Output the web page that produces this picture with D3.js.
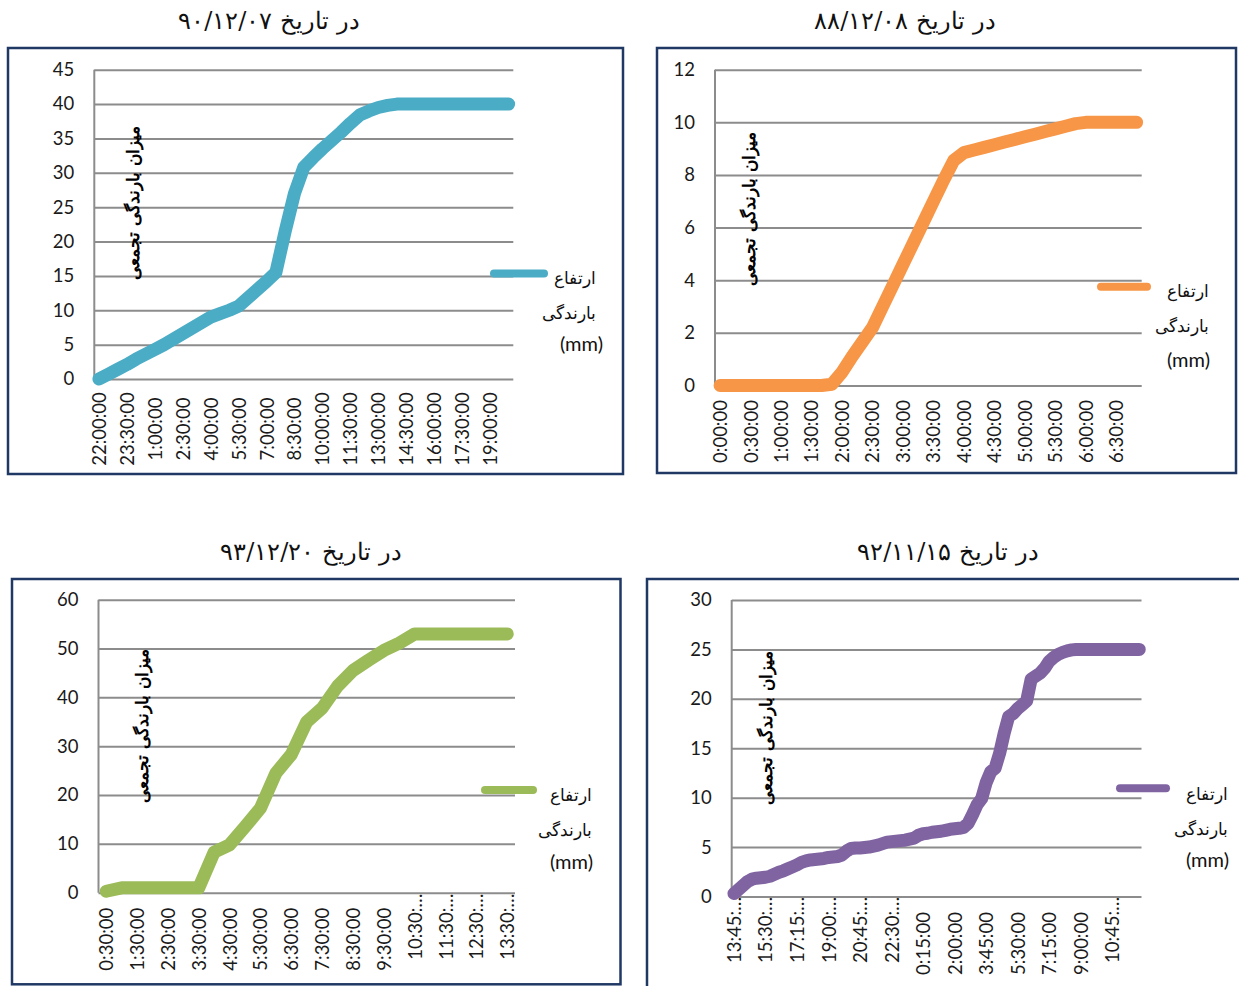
<!DOCTYPE html>
<html><head><meta charset="utf-8">
<script src="https://cdn.jsdelivr.net/npm/d3@7"></script>
<style>
html,body{margin:0;padding:0;background:#fff;}
svg{display:block;}
</style></head>
<body>
<svg id="c" width="1239" height="986"></svg>
<script>
// ---------------- DATA ----------------
// Panel 1 : در تاریخ ۹۰/۱۲/۰۷ (30-min steps)
const p1Cats = ["22:00:00","22:30:00","23:00:00","23:30:00","0:00:00","0:30:00","1:00:00","1:30:00","2:00:00","2:30:00",
"3:00:00","3:30:00","4:00:00","4:30:00","5:00:00","5:30:00","6:00:00","6:30:00","7:00:00","7:30:00",
"8:00:00","8:30:00","9:00:00","9:30:00","10:00:00","10:30:00","11:00:00","11:30:00","12:00:00","12:30:00",
"13:00:00","13:30:00","14:00:00","14:30:00","15:00:00","15:30:00","16:00:00","16:30:00","17:00:00","17:30:00",
"18:00:00","18:30:00","19:00:00","19:30:00","20:00:00"];
const p1Vals = [0,0.7,1.4,2.1,2.9,3.6,4.3,5.0,5.8,6.6,
7.4,8.2,9.0,9.5,10.0,10.6,11.8,13.0,14.2,15.5,
21.5,27.0,30.8,32.2,33.5,34.7,35.9,37.2,38.4,39.0,
39.5,39.8,40,40,40,40,40,40,40,40,
40,40,40,40,40];
const p1TickCats = ["22:00:00","23:30:00","1:00:00","2:30:00","4:00:00","5:30:00","7:00:00","8:30:00","10:00:00","11:30:00","13:00:00","14:30:00","16:00:00","17:30:00","19:00:00"];
const p1TickText = p1TickCats;
const p1YTicks = [0,5,10,15,20,25,30,35,40,45];

// Panel 2 : در تاریخ ۸۸/۱۲/۰۸ (10-min steps)
const p2Cats = ["0:00:00","0:10:00","0:20:00","0:30:00","0:40:00","0:50:00","1:00:00","1:10:00","1:20:00","1:30:00",
"1:40:00","1:50:00","2:00:00","2:10:00","2:20:00","2:30:00","2:40:00","2:50:00","3:00:00","3:10:00",
"3:20:00","3:30:00","3:40:00","3:50:00","4:00:00","4:10:00","4:20:00","4:30:00","4:40:00","4:50:00",
"5:00:00","5:10:00","5:20:00","5:30:00","5:40:00","5:50:00","6:00:00","6:10:00","6:20:00","6:30:00",
"6:40:00","6:50:00"];
const p2Vals = [0,0,0,0,0,0,0,0,0,0,
0,0.05,0.5,1.1,1.65,2.2,3.0,3.8,4.6,5.4,
6.2,7.0,7.8,8.55,8.85,8.95,9.05,9.15,9.25,9.35,
9.45,9.55,9.65,9.75,9.85,9.95,10,10,10,10,
10,10];
const p2TickCats = ["0:00:00","0:30:00","1:00:00","1:30:00","2:00:00","2:30:00","3:00:00","3:30:00","4:00:00","4:30:00","5:00:00","5:30:00","6:00:00","6:30:00"];
const p2TickText = p2TickCats;
const p2YTicks = [0,2,4,6,8,10,12];

// Panel 3 : در تاریخ ۹۳/۱۲/۲۰ (30-min steps)
const p3Cats = ["0:30:00","1:00:00","1:30:00","2:00:00","2:30:00","3:00:00","3:30:00","4:00:00","4:30:00","5:00:00",
"5:30:00","6:00:00","6:30:00","7:00:00","7:30:00","8:00:00","8:30:00","9:00:00","9:30:00","10:00:00",
"10:30:00","11:00:00","11:30:00","12:00:00","12:30:00","13:00:00","13:30:00"];
const p3Vals = [0.3,1.0,1.0,1.0,1.0,1.0,1.0,8.3,9.8,13.5,
17.3,24.5,28.3,35.0,37.8,42.3,45.5,47.6,49.6,51.1,
53.0,53.0,53.0,53.0,53.0,53.0,53.0];
const p3TickCats = ["0:30:00","1:30:00","2:30:00","3:30:00","4:30:00","5:30:00","6:30:00","7:30:00","8:30:00","9:30:00","10:30:00","11:30:00","12:30:00","13:30:00"];
const p3TickText = ["0:30:00","1:30:00","2:30:00","3:30:00","4:30:00","5:30:00","6:30:00","7:30:00","8:30:00","9:30:00","10:30:…","11:30:…","12:30:…","13:30:…"];
const p3YTicks = [0,10,20,30,40,50,60];

// Panel 4 : در تاریخ ۹۲/۱۱/۱۵ (15-min steps)
const p4Cats = ["13:45:00","14:00:00","14:15:00","14:30:00","14:45:00","15:00:00","15:15:00","15:30:00","15:45:00","16:00:00",
"16:15:00","16:30:00","16:45:00","17:00:00","17:15:00","17:30:00","17:45:00","18:00:00","18:15:00","18:30:00",
"18:45:00","19:00:00","19:15:00","19:30:00","19:45:00","20:00:00","20:15:00","20:30:00","20:45:00","21:00:00",
"21:15:00","21:30:00","21:45:00","22:00:00","22:15:00","22:30:00","22:45:00","23:00:00","23:15:00","23:30:00",
"23:45:00","0:00:00","0:15:00","0:30:00","0:45:00","1:00:00","1:15:00","1:30:00","1:45:00","2:00:00",
"2:15:00","2:30:00","2:45:00","3:00:00","3:15:00","3:30:00","3:45:00","4:00:00","4:15:00","4:30:00",
"4:45:00","5:00:00","5:15:00","5:30:00","5:45:00","6:00:00","6:15:00","6:30:00","6:45:00","7:00:00",
"7:15:00","7:30:00","7:45:00","8:00:00","8:15:00","8:30:00","8:45:00","9:00:00","9:15:00","9:30:00",
"9:45:00","10:00:00","10:15:00","10:30:00","10:45:00","11:00:00","11:15:00","11:30:00","11:45:00","12:00:00",
"12:15:00"];
const p4Vals = [0.3,0.7,1.1,1.5,1.75,1.85,1.9,1.95,2.05,2.25,
2.45,2.6,2.8,3.0,3.2,3.45,3.6,3.7,3.75,3.8,
3.85,3.95,4.0,4.05,4.2,4.6,4.85,4.9,4.9,4.95,
5.0,5.1,5.2,5.35,5.5,5.55,5.6,5.65,5.7,5.8,
5.9,6.2,6.35,6.4,6.5,6.55,6.6,6.7,6.8,6.85,
6.9,7.0,7.4,8.3,9.3,9.9,11.5,12.6,13.0,14.5,
16.5,18.2,18.5,19.0,19.4,19.8,22.0,22.3,22.6,23.1,
23.8,24.2,24.5,24.7,24.85,24.95,25,25,25,25,
25,25,25,25,25,25,25,25,25,25,
25];
const p4TickCats = ["13:45:00","15:30:00","17:15:00","19:00:00","20:45:00","22:30:00","0:15:00","2:00:00","3:45:00","5:30:00","7:15:00","9:00:00","10:45:00"];
const p4TickText = ["13:45:…","15:30:…","17:15:…","19:00:…","20:45:…","22:30:…","0:15:00","2:00:00","3:45:00","5:30:00","7:15:00","9:00:00","10:45:…"];
const p4YTicks = [0,5,10,15,20,25,30];

const titles = ["در تاریخ ۹۰/۱۲/۰۷","در تاریخ ۸۸/۱۲/۰۸","در تاریخ ۹۳/۱۲/۲۰","در تاریخ ۹۲/۱۱/۱۵"];
const yTitle = "میزان بارندگی تجمعی";
const legendLines = ["ارتفاع","بارندگی","(mm)"];
const colors = ["#4BACC6","#F79646","#9BBB59","#8064A2"];

// ---------------- LAYOUT ----------------
const panels = [
 {cats:p1Cats, vals:p1Vals, tc:p1TickCats, tt:p1TickText, yt:p1YTicks, ymax:45,
  frame:[8,48,623,474], px:[94.3,513.3], py:[69.7,379], title:[269,29], ytitle:[133,203],
  leg:{x0:490,x1:548,y:273.5,tx:596,t1:278,t2:313,t3:344,mmx:603}, lblFull:50, lblTr:50},
 {cats:p2Cats, vals:p2Vals, tc:p2TickCats, tt:p2TickText, yt:p2YTicks, ymax:12,
  frame:[657,48,1236,473], px:[715,1141.7], py:[69.7,385.5], title:[905,29], ytitle:[749,209],
  leg:{x0:1097,x1:1151,y:286.7,tx:1209,t1:291,t2:326,t3:360,mmx:1210}, lblFull:46, lblTr:46},
 {cats:p3Cats, vals:p3Vals, tc:p3TickCats, tt:p3TickText, yt:p3YTicks, ymax:60,
  frame:[12,579,620.5,984.3], px:[98.5,515], py:[599.7,892.7], title:[311,560], ytitle:[142.5,726],
  leg:{x0:481,x1:537,y:790,tx:592,t1:795,t2:830,t3:862,mmx:593}, lblFull:46.5, lblTr:34},
 {cats:p4Cats, vals:p4Vals, tc:p4TickCats, tt:p4TickText, yt:p4YTicks, ymax:30,
  frame:[647,579,1260,1010], px:[731.7,1141.5], py:[600,896.5], title:[948,560], ytitle:[766,728],
  leg:{x0:1116,x1:1170,y:788.3,tx:1228,t1:794,t2:829,t3:860,mmx:1229}, lblFull:47, lblTr:33.5}
];

const svg = d3.select("#c");
svg.append("rect").attr("width",1239).attr("height",986).attr("fill","#fff");

const numFont = "Lato, 'Open Sans', sans-serif";
const faFont = "'DejaVu Serif','Liberation Serif', serif";
const grid = "#8c8c8c";

panels.forEach((p,k)=>{
  const g = svg.append("g");
  // title
  g.append("text").attr("x",p.title[0]).attr("y",p.title[1])
   .attr("text-anchor","middle").attr("direction","rtl")
   .style("font-family",faFont).style("font-size","24px").attr("fill","#111")
   .text(titles[k]);
  // frame
  g.append("rect").attr("x",p.frame[0]).attr("y",p.frame[1])
   .attr("width",p.frame[2]-p.frame[0]).attr("height",p.frame[3]-p.frame[1])
   .attr("fill","#fff").attr("stroke","#1f3864").attr("stroke-width",2.5);

  const x = d3.scalePoint().domain(p.cats).range(p.px).padding(0.5);
  const y = d3.scaleLinear().domain([0,p.ymax]).range([p.py[1],p.py[0]]);

  // y axis with gridlines
  const ya = g.append("g").attr("transform",`translate(${p.px[0]},0)`)
    .call(d3.axisLeft(y).tickValues(p.yt).tickSize(-(p.px[1]-p.px[0])).tickPadding(20));
  ya.select(".domain").remove();
  ya.selectAll("line").attr("stroke",grid).attr("stroke-width",2);
  ya.selectAll("text").style("font-family",numFont).style("font-size","18.5px").attr("fill","#1a1a1a");
  g.append("line").attr("x1",p.px[0]).attr("x2",p.px[0]).attr("y1",p.py[0]).attr("y2",p.py[1])
   .attr("stroke",grid).attr("stroke-width",2);

  // x axis labels
  const xa = g.append("g").attr("transform",`translate(0,${p.py[1]})`)
    .call(d3.axisBottom(x).tickValues(p.tc).tickSize(0).tickFormat((d,i)=>p.tt[i]));
  xa.select(".domain").remove();
  xa.selectAll("text")
    .attr("y",0).attr("dy","0.35em")
    .attr("text-anchor","middle")
    .attr("transform",(d,i)=>`translate(0,${p.tt[i].includes("…")?p.lblTr:p.lblFull}) rotate(-90)`)
    .style("font-family",numFont).style("font-size","18.5px").attr("fill","#1a1a1a");

  // y title
  g.append("text").attr("transform",`translate(${p.ytitle[0]},${p.ytitle[1]}) rotate(-90)`)
   .attr("text-anchor","middle").attr("dy","0.35em").attr("direction","rtl")
   .style("font-family",faFont).style("font-size","16.5px").style("font-weight","bold").attr("fill","#000")
   .text(yTitle);

  // data line
  const line = d3.line().x((d,i)=>x(p.cats[i])).y(d=>y(d));
  g.append("path").datum(p.vals).attr("d",line).attr("fill","none")
   .attr("stroke",colors[k]).attr("stroke-width",13)
   .attr("stroke-linecap","round").attr("stroke-linejoin","round");

  // legend
  const L = p.leg;
  g.append("line").attr("x1",L.x0+4).attr("x2",L.x1-4).attr("y1",L.y).attr("y2",L.y)
   .attr("stroke",colors[k]).attr("stroke-width",8).attr("stroke-linecap","round");
  g.append("text").attr("x",L.tx).attr("y",L.t1).attr("text-anchor","start").attr("direction","rtl")
   .attr("dy","0.35em").style("font-family",faFont).style("font-size","17px").attr("fill","#111").text(legendLines[0]);
  g.append("text").attr("x",L.tx).attr("y",L.t2).attr("text-anchor","start").attr("direction","rtl")
   .attr("dy","0.35em").style("font-family",faFont).style("font-size","17px").attr("fill","#111").text(legendLines[1]);
  g.append("text").attr("x",L.mmx).attr("y",L.t3).attr("text-anchor","end")
   .attr("dy","0.35em").style("font-family",numFont).style("font-size","20px").attr("fill","#111").text(legendLines[2]);
});
</script>
</body></html>
